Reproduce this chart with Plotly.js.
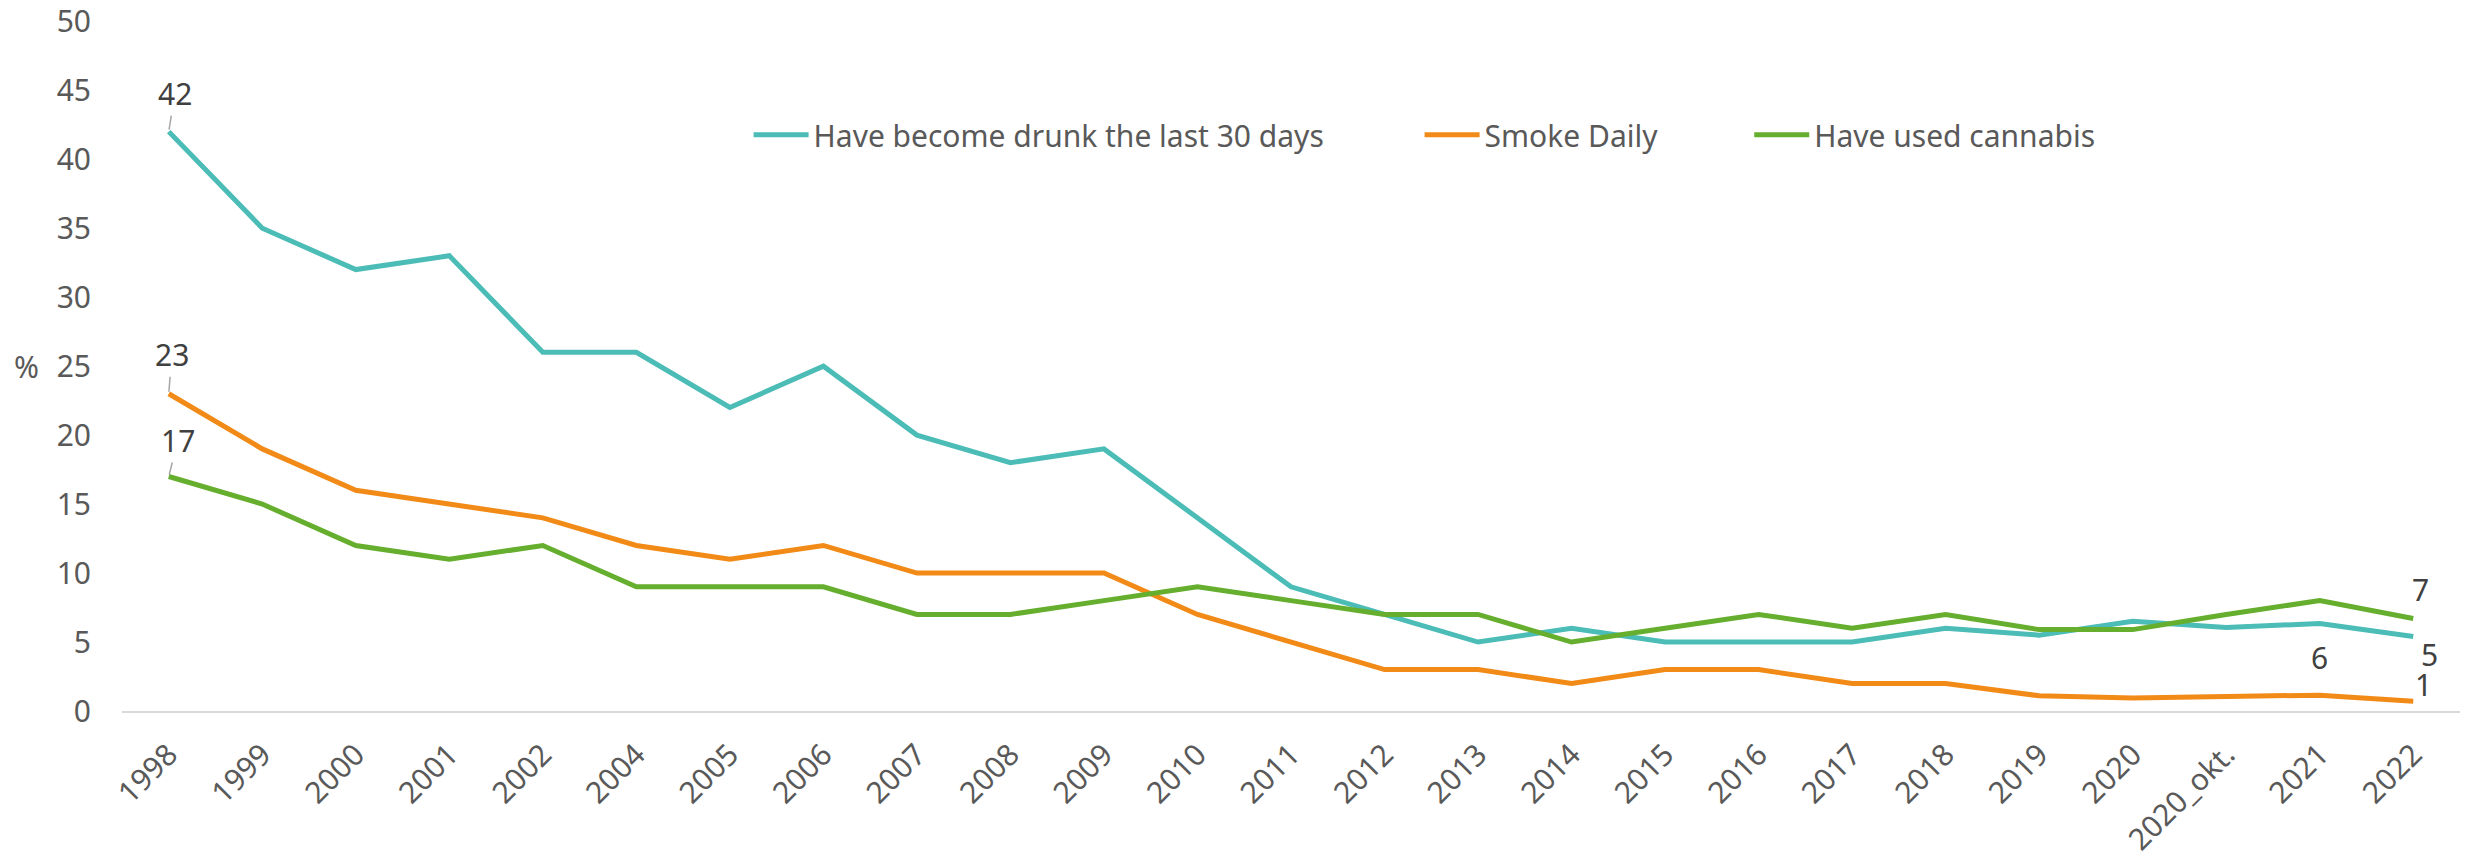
<!DOCTYPE html>
<html>
<head>
<meta charset="utf-8">
<script src="https://cdn.plot.ly/plotly-3.0.1.min.js"></script>
<style>html,body{margin:0;padding:0;background:#fff;}#chart{width:2466px;height:865px;}</style>
</head>
<body>
<div id="chart"></div>
<script>
const categories = ["1998","1999","2000","2001","2002","2004","2005","2006","2007","2008","2009","2010","2011","2012","2013","2014","2015","2016","2017","2018","2019","2020","2020_okt.","2021","2022"];
const drunk    = [42,35,32,33,26,26,22,25,20,18,19,14,9,7,5,6,5,5,5,6,5.5,6.5,6.05,6.35,5.4];
const smoke    = [23,19,16,15,14,12,11,12,10,10,10,7,5,3,3,2,3,3,2,2,1.1,0.95,1.05,1.15,0.7];
const cannabis = [17,15,12,11,12,9,9,9,7,7,8,9,8,7,7,5,6,7,6,7,5.9,5.9,7,8,6.7];
const seriesNames = ["Have become drunk the last 30 days","Smoke Daily","Have used cannabis"];
const yTicks = [0,5,10,15,20,25,30,35,40,45,50];

const colors = ["#4BBCB6","#F28A17","#65AE2E"];
const FONT = "Noto Sans, Open Sans, sans-serif";
const allData = [drunk, smoke, cannabis];

const traces = allData.map((vals, i) => ({
  type: "scatter", mode: "lines", x: categories, y: vals, name: seriesNames[i],
  line: {color: colors[i], width: 5},
  legend: i === 0 ? "legend" : ("legend" + (i + 1)),
  hoverinfo: "skip"
}));

const n = categories.length - 1;
const lab = (v) => String(Math.round(v));
const annFont = {family: FONT, size: 30, color: "#404040"};
// on a category axis, annotation x is the category index
const arrowAnn = (idx, y, ax, ay) => ({x: idx, y: y, xref: "x", yref: "y", text: lab(y), showarrow: true,
  arrowhead: 0, arrowwidth: 1.5, arrowcolor: "#A6A6A6", ax: ax, ay: ay, font: annFont, standoff: 2});
const plainAnn = (idx, y, xs, ys) => ({x: idx, y: y, xref: "x", yref: "y", text: lab(y), showarrow: false,
  xshift: xs, yshift: ys, font: annFont});

const annotations = [
  arrowAnn(0, drunk[0], 6, -38),
  arrowAnn(0, smoke[0], 3, -39),
  arrowAnn(0, cannabis[0], 9, -36),
  plainAnn(n, cannabis[n], 7, 29),
  plainAnn(n, drunk[n], 16, -18),
  plainAnn(n, smoke[n], 10, 17),
  plainAnn(n - 1, drunk[n - 1], 0, -34),
  {xref: "paper", yref: "paper", x: 0, y: 0.5, xshift: -110, text: "%", showarrow: false,
   font: {family: FONT, size: 30, color: "#595959"}}
];

const legBase = {orientation: "h", yanchor: "middle", y: 0.835, xanchor: "left",
  font: {family: FONT, size: 30, color: "#595959"}, bgcolor: "rgba(0,0,0,0)", itemwidth: 55};

const layout = {
  width: 2466, height: 865,
  margin: {l: 122, r: 6, t: 21, b: 154},
  paper_bgcolor: "#ffffff", plot_bgcolor: "#ffffff",
  showlegend: true,
  legend: Object.assign({}, legBase, {x: 0.268}),
  legend2: Object.assign({}, legBase, {x: 0.555}),
  legend3: Object.assign({}, legBase, {x: 0.696}),
  xaxis: {
    type: "category", range: [-0.5, n + 0.5], tickangle: -45, showgrid: false, zeroline: false,
    showline: true, linecolor: "#D9D9D9", linewidth: 2, ticks: "",
    ticklabelstandoff: 12, ticklabeloverflow: "allow",
    tickfont: {family: FONT, size: 30, color: "#595959"},
    fixedrange: true
  },
  yaxis: {
    range: [0, 50.02], tickvals: yTicks, ticktext: yTicks.map(String),
    showgrid: false, zeroline: false, showline: false, ticks: "",
    ticklabelstandoff: 30, ticklabeloverflow: "allow",
    tickfont: {family: FONT, size: 30, color: "#595959"},
    fixedrange: true
  },
  annotations: annotations
};

Plotly.newPlot("chart", traces, layout, {displayModeBar: false, staticPlot: true});
</script>
</body>
</html>
